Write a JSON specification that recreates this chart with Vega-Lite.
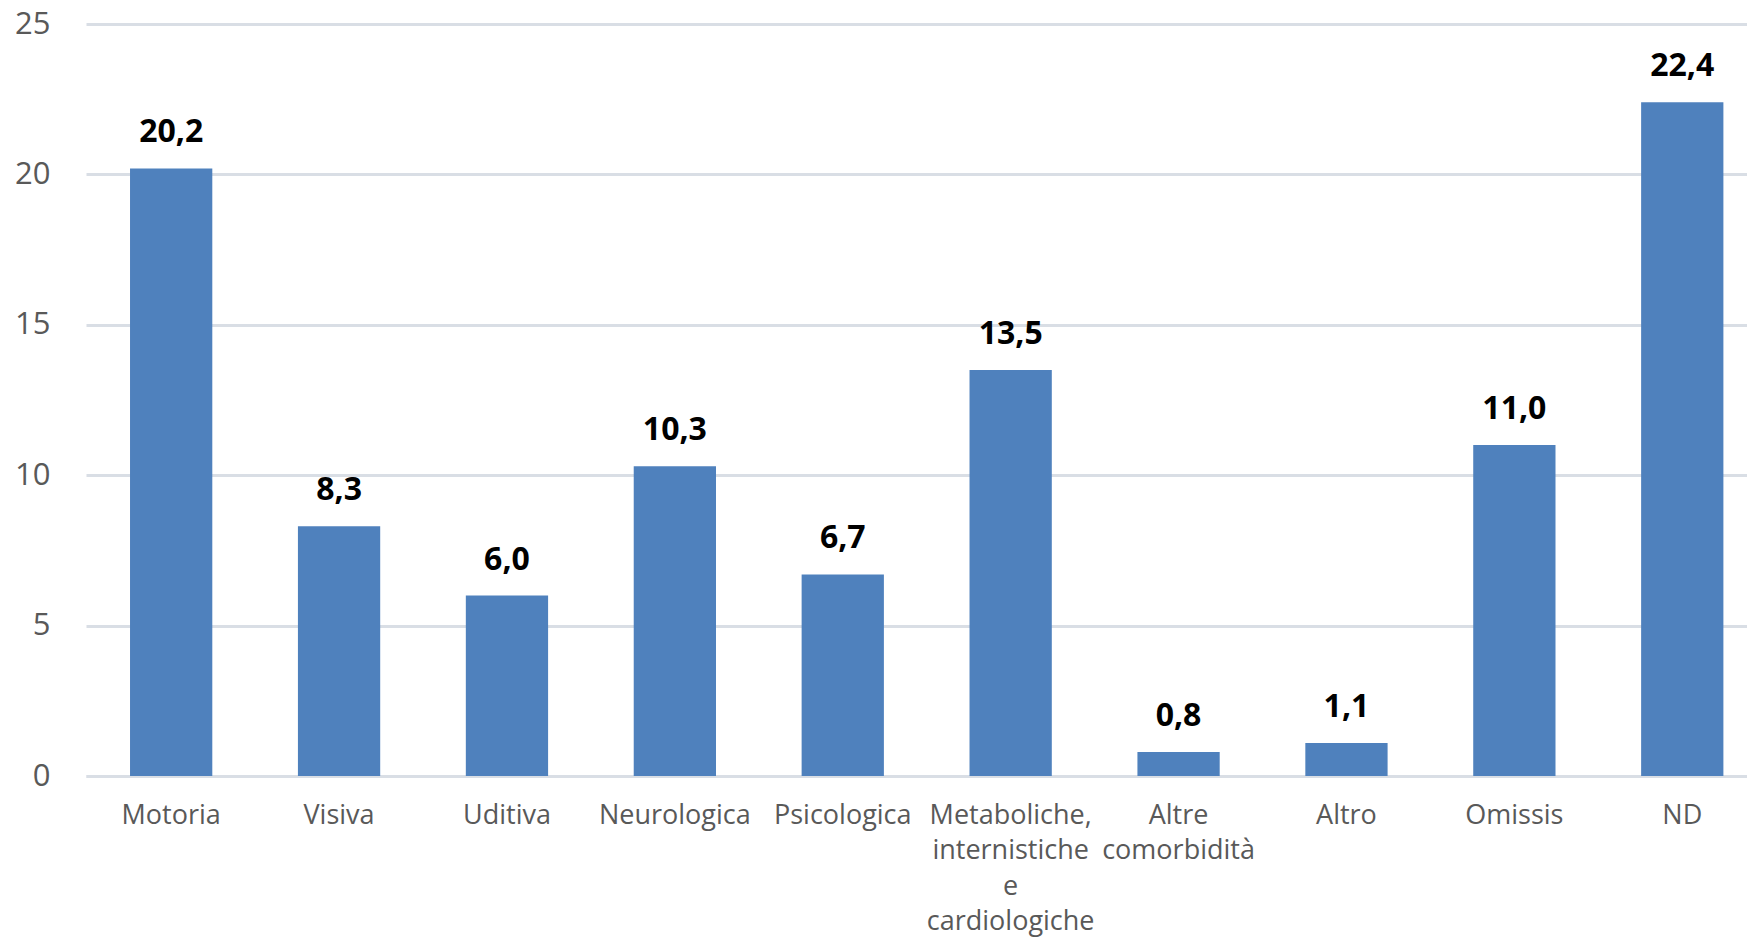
{
  "$schema": "https://vega.github.io/schema/vega-lite/v6.json",
  "autosize": "none",
  "width": 1661,
  "height": 752,
  "padding": {"left": 86, "top": 24, "right": 0, "bottom": 165},
  "background": "white",
  "config": {
    "view": {"stroke": null},
    "locale": {"number": {"decimal": ",", "thousands": ".", "grouping": [3], "currency": ["", " €"]}},
    "font": "Open Sans"
  },
  "data": {
    "values": [
      {"categoria": "Motoria", "valore": 20.2},
      {"categoria": "Visiva", "valore": 8.3},
      {"categoria": "Uditiva", "valore": 6.0},
      {"categoria": "Neurologica", "valore": 10.3},
      {"categoria": "Psicologica", "valore": 6.7},
      {"categoria": "Metaboliche, internistiche e cardiologiche", "valore": 13.5},
      {"categoria": "Altre comorbidità", "valore": 0.8},
      {"categoria": "Altro", "valore": 1.1},
      {"categoria": "Omissis", "valore": 11.0},
      {"categoria": "ND", "valore": 22.4}
    ]
  },
  "encoding": {
    "x": {
      "field": "categoria",
      "type": "nominal",
      "sort": null,
      "scale": {"paddingInner": 0.51, "paddingOuter": 0.2014, "align": 0.651},
      "axis": {
        "title": null,
        "labelAngle": 0,
        "ticks": false,
        "domain": true,
        "domainColor": "#d9dee5",
        "domainWidth": 3,
        "labelFont": "Open Sans",
        "labelFontSize": 27,
        "labelColor": "#595959",
        "labelPadding": 26,
        "labelBaseline": "top",
        "labelLineHeight": 35.5,
        "labelLimit": 400,
        "labelExpr": "datum.value == 'Metaboliche, internistiche e cardiologiche' ? ['Metaboliche,', 'internistiche', 'e', 'cardiologiche'] : datum.value == 'Altre comorbidità' ? ['Altre', 'comorbidità'] : datum.value"
      }
    },
    "y": {
      "field": "valore",
      "type": "quantitative",
      "scale": {"domain": [0, 25], "nice": false},
      "axis": {
        "title": null,
        "values": [0, 5, 10, 15, 20, 25],
        "ticks": false,
        "domain": false,
        "grid": true,
        "gridColor": "#d9dee5",
        "gridWidth": 3,
        "labelFont": "Open Sans",
        "labelFontSize": 31,
        "labelColor": "#595959",
        "labelPadding": 36
      }
    }
  },
  "layer": [
    {"mark": {"type": "bar", "color": "#4f81bd"}},
    {
      "mark": {"type": "text", "font": "Open Sans", "fontSize": 32, "fontWeight": "bold", "color": "#000000", "baseline": "alphabetic", "dy": -26},
      "encoding": {"text": {"field": "valore", "type": "quantitative", "format": ".1f"}}
    }
  ]
}
